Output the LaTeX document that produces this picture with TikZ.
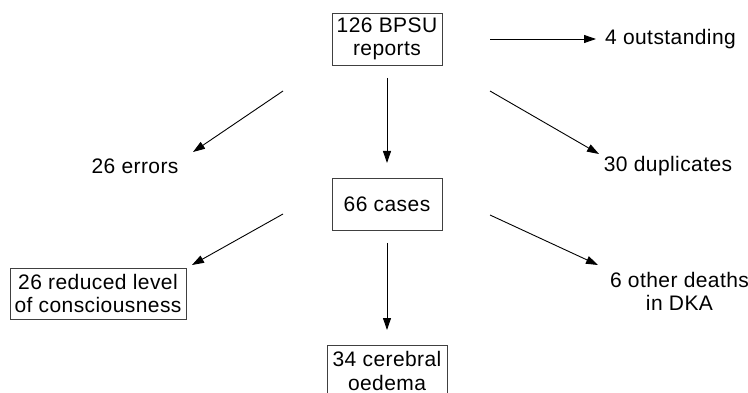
\documentclass[tikz,border=0pt]{standalone}
\usepackage{fontspec}
\setmainfont{Liberation Sans}[LetterSpace=2]
\usepackage{tikz}
\usetikzlibrary{arrows.meta}
\tikzstyle{Box}=[draw=black!75,line width=0.9pt,align=center,
inner sep=0pt]
\tikzstyle{Label}=[align=center,inner sep=0pt]
\tikzstyle{Arrow}=[draw=black,line width=0.9pt,
-{Triangle[length=12pt,width=8pt]}]

\begin{document}
\begin{tikzpicture}[x=1pt,y=-1pt,font=\fontsize{21}{23.5}\selectfont]
            \useasboundingbox (0,0) rectangle (748,393);
            \clip (0,0) rectangle (748,393);
            \node[Box,minimum width=110pt,minimum height=52pt](rep)
                at(387,39){126 BPSU\\reports};
            \node[Box,minimum width=110pt,minimum height=52pt](cas)
                at(387,204){66 cases};
            \node[Box,minimum width=176pt,minimum height=51pt](red)
                at(98,293.5){26 reduced level\\of consciousness};
            \node[Box,minimum width=120pt,minimum height=52pt](oed)
                at(387,371){34 cerebral\\oedema};
            \node[Label](out)at(670.5,39){4 outstanding};
            \node[Label](err)at(135,166){26 errors};
            \node[Label](dup)at(668,166){30 duplicates};
            \node[Label](dka)at(679.5,291.5){6 other deaths\\in DKA};
            %
            \coordinate(a0)at(490,39);  \coordinate(b0)at(596,39);
            \coordinate(a1)at(283,91);  \coordinate(b1)at(193,152);
            \coordinate(a2)at(387,78);  \coordinate(b2)at(387,163);
            \coordinate(a3)at(490,91);  \coordinate(b3)at(599,154);
            \coordinate(a4)at(283,214); \coordinate(b4)at(192,265);
            \coordinate(a5)at(387,243); \coordinate(b5)at(387,330);
            \coordinate(a6)at(490,215); \coordinate(b6)at(598,265);
            \foreach \i in {0,...,6}
                \draw[Arrow](a\i)--(b\i);
        \end{tikzpicture}
\end{document}
